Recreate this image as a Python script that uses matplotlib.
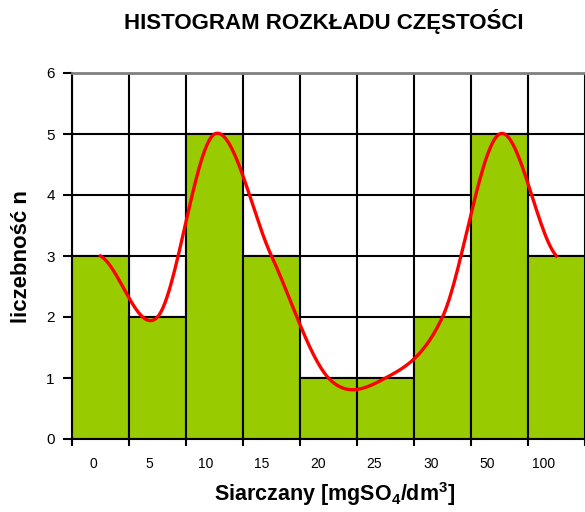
import numpy as np
import matplotlib.pyplot as plt

plt.rcParams['font.family'] = ['Liberation Sans', 'DejaVu Sans']
plt.rcParams['mathtext.fontset'] = 'custom'
plt.rcParams['mathtext.rm'] = 'Liberation Sans'
plt.rcParams['mathtext.bf'] = 'Liberation Sans:bold'

# data
categories = ['0', '5', '10', '15', '20', '25', '30', '50', '100']
counts = [3, 2, 5, 3, 1, 1, 2, 5, 3]


def catmull_rom(x, y, n=30):
    # smooth line through the points (like Excel "smoothed line")
    x = np.asarray(x, float)
    y = np.asarray(y, float)
    px = np.concatenate([[2 * x[0] - x[1]], x, [2 * x[-1] - x[-2]]])
    py = np.concatenate([[y[0]], y, [y[-1]]])
    xs, ys = [], []
    for i in range(1, len(px) - 2):
        t = np.linspace(0, 1, n, endpoint=False)
        for p, out in ((px, xs), (py, ys)):
            p0, p1, p2, p3 = p[i - 1], p[i], p[i + 1], p[i + 2]
            out.extend(0.5 * (2 * p1 + (-p0 + p2) * t
                              + (2 * p0 - 5 * p1 + 4 * p2 - p3) * t ** 2
                              + (-p0 + 3 * p1 - 3 * p2 + p3) * t ** 3))
    xs.append(x[-1])
    ys.append(y[-1])
    return np.array(xs), np.array(ys)


fig = plt.figure(figsize=(5.85, 5.12), dpi=100)
ax = fig.add_axes([72 / 585, 1 - 439 / 512, 1 - 72 / 585, (439 - 73) / 512])

n = len(counts)
centers = np.arange(n) + 0.5
ax.bar(centers, counts, width=1.0, color='#99CC00', edgecolor='black',
       linewidth=1.5, zorder=2)

cx, cy = catmull_rom(centers, counts)
ax.plot(cx, cy, color='#FF0000', linewidth=2.4, zorder=3)

ax.set_xlim(0, n)
ax.set_ylim(0, 6)

ax.set_yticks(range(0, 7))
ax.set_xticks(np.arange(n + 1))
ax.set_xticklabels([])
ax.grid(True, color='black', linewidth=1.5, zorder=1)
ax.set_axisbelow(True)

ax.tick_params(axis='y', direction='out', length=6.5, width=1.5, labelsize=11, pad=6)
ax.tick_params(axis='x', direction='out', length=5, width=1.5)

# category labels sit a little left of the bar centres, as in the original
for i, lab in enumerate(categories):
    ax.text(0.368 + 0.988 * i, -0.41, lab, ha='center', va='center', fontsize=10)

ax.spines['right'].set_visible(False)
ax.spines['top'].set_color('#808080')
ax.spines['top'].set_linewidth(2)
ax.spines['left'].set_linewidth(1.5)
ax.spines['bottom'].set_linewidth(1.5)

fig.text(324 / 585, 1 - 21 / 512, 'HISTOGRAM ROZKŁADU CZĘSTOŚCI',
         ha='center', va='center', fontsize=16, fontweight='bold')
fig.text(335 / 585, 1 - 494 / 512, r'Siarczany [mgSO$_\mathbf{4}$/dm$^\mathbf{3}$]',
         ha='center', va='center', fontsize=15.5, fontweight='bold')
fig.text(22 / 585, 1 - 257 / 512, 'liczebność n', rotation=90,
         ha='center', va='center', fontsize=16, fontweight='bold')

fig.savefig('out.png', dpi=100)
